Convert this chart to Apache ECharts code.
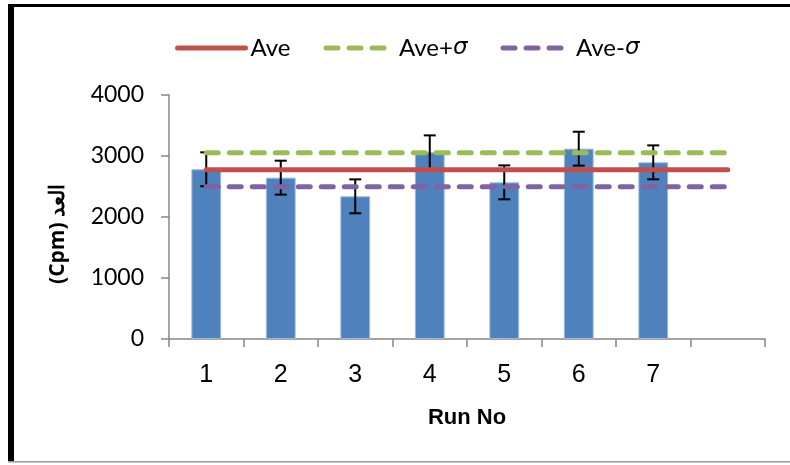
<!DOCTYPE html>
<html>
<head>
<meta charset="utf-8">
<script src="https://cdn.jsdelivr.net/npm/echarts@6/dist/echarts.min.js"></script>
<style>
  html, body { margin: 0; padding: 0; background: #fff; }
  #chart { width: 790px; height: 465px; }
</style>
</head>
<body>
<div id="chart"></div>
<script>
// Run numbers on the category axis (the last slot is left empty)
const runLabels = ['1', '2', '3', '4', '5', '6', '7', ''];
// Counts per run (Cpm)
const counts = [2782, 2645, 2339, 3060, 2568, 3120, 2896, null];
// Error bar half-length for each run
const errors = [278, 278, 278, 278, 278, 278, 278, null];
// Reference lines: average and average ± sigma
const aveLine      = [2776, 2776, 2776, 2776, 2776, 2776, 2776, 2776];
const avePlusLine  = [3055, 3055, 3055, 3055, 3055, 3055, 3055, 3055];
const aveMinusLine = [2497, 2497, 2497, 2497, 2497, 2497, 2497, 2497];
// Value axis ticks
const yMin = 0, yMax = 4000, yStep = 1000;

const DASH = [12, 11];

const errorData = counts
  .map((v, i) => (v == null ? null : [i, v, errors[i]]))
  .filter(d => d);

const chart = echarts.init(document.getElementById('chart'), null, { renderer: 'canvas' });

const lineSeries = (name, data, color, dashed) => ({
  name,
  type: 'line',
  data,
  symbol: 'none',
  z: 5,
  lineStyle: {
    color,
    width: 5,
    cap: 'round',
    type: dashed ? DASH : 'solid'
  },
  itemStyle: { color }
});

const legendItem = (name, color, dashed) => ({
  name,
  itemStyle: { opacity: 0 },
  lineStyle: { color, width: 5, cap: 'round', type: dashed ? DASH : 'solid' }
});

chart.setOption({
  animation: false,
  backgroundColor: '#fff',
  grid: {
    left: 169, right: 25, top: 95, bottom: 126,
    outerBoundsMode: 'none'
  },
  legend: {
    left: 170,
    top: 31,
    itemWidth: 68,
    itemHeight: 5,
    itemGap: 33,
    data: [
      legendItem('Ave', '#C0504D', false),
      legendItem('Ave+σ', '#9BBB59', true),
      legendItem('Ave-σ', '#8064A2', true)
    ],
    textStyle: {
      fontFamily: 'Lato',
      fontSize: 24,
      color: '#000',
      rich: {
        s: { fontFamily: 'DejaVu Sans', fontStyle: 'italic', fontSize: 23, color: '#000' }
      }
    },
    formatter: name => name.replace('σ', '{s|σ}')
  },
  xAxis: {
    type: 'category',
    data: runLabels,
    name: 'Run No',
    nameLocation: 'middle',
    nameGap: 68,
    nameTextStyle: {
      fontFamily: 'Liberation Sans',
      fontWeight: 'bold',
      fontSize: 22,
      color: '#000'
    },
    axisLine: { show: true, lineStyle: { color: '#868686', width: 1.5 } },
    axisTick: { show: true, alignWithLabel: false, interval: 0, length: 8, lineStyle: { color: '#868686', width: 1.5 } },
    axisLabel: {
      interval: 0,
      margin: 24,
      fontFamily: 'Liberation Sans',
      fontSize: 25,
      color: '#000'
    }
  },
  yAxis: {
    type: 'value',
    min: yMin,
    max: yMax,
    interval: yStep,
    name: '(Cpm) العد',
    nameLocation: 'middle',
    nameRotate: 90,
    nameGap: 100,
    nameTextStyle: {
      fontFamily: 'Open Sans',
      fontWeight: 'bold',
      fontSize: 21,
      color: '#000',
      padding: [0, 34, 0, 0]
    },
    axisLine: { show: true, lineStyle: { color: '#868686', width: 1.5 } },
    axisTick: { show: true, length: 8, lineStyle: { color: '#868686', width: 1.5 } },
    splitLine: { show: false },
    axisLabel: {
      margin: 25,
      fontFamily: 'Lato',
      fontSize: 23,
      color: '#000',
      formatter: v => String(v)
    }
  },
  series: [
    {
      name: 'Counts',
      type: 'bar',
      data: counts,
      barWidth: '40%',
      z: 2,
      itemStyle: { color: '#4F81BD', borderColor: '#9DB9DD', borderWidth: 1 }
    },
    {
      name: 'Error',
      type: 'custom',
      z: 3,
      data: errorData,
      renderItem: (params, api) => {
        const idx = api.value(0);
        const v = api.value(1);
        const e = api.value(2);
        const top = api.coord([idx, v + e]);
        const bot = api.coord([idx, v - e]);
        const hw = 6;
        const st = { stroke: '#000', lineWidth: 2 };
        return {
          type: 'group',
          children: [
            { type: 'line', shape: { x1: top[0], y1: top[1], x2: bot[0], y2: bot[1] }, style: st },
            { type: 'line', shape: { x1: top[0] - hw, y1: top[1], x2: top[0] + hw, y2: top[1] }, style: st },
            { type: 'line', shape: { x1: bot[0] - hw, y1: bot[1], x2: bot[0] + hw, y2: bot[1] }, style: st }
          ]
        };
      }
    },
    lineSeries('Ave', aveLine, '#C0504D', false),
    lineSeries('Ave+σ', avePlusLine, '#9BBB59', true),
    lineSeries('Ave-σ', aveMinusLine, '#8064A2', true)
  ],
  graphic: [
    // chart frame: heavy top and left edges, thin grey bottom edge
    { type: 'rect', shape: { x: 8, y: 4, width: 782, height: 3 }, style: { fill: '#000' }, silent: true },
    { type: 'rect', shape: { x: 8, y: 4, width: 6, height: 458 }, style: { fill: '#000' }, silent: true },
    { type: 'rect', shape: { x: 8, y: 461, width: 782, height: 1.5 }, style: { fill: '#9a9a9a' }, silent: true }
  ]
});
</script>
</body>
</html>
